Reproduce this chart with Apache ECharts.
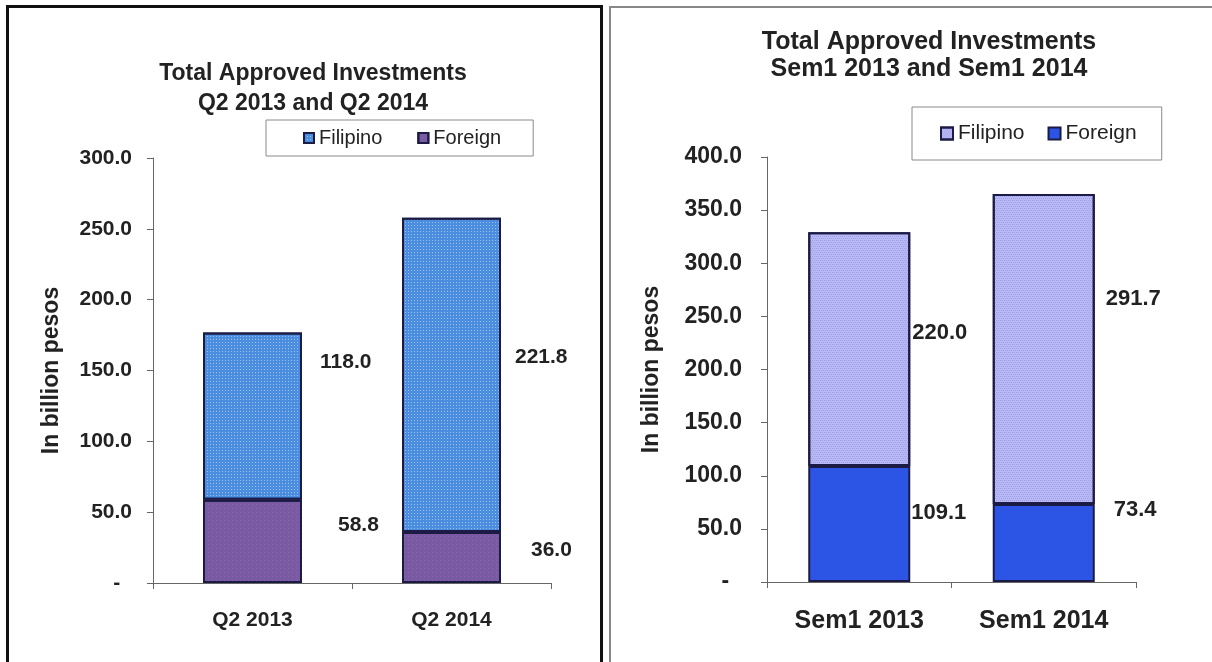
<!DOCTYPE html>
<html>
<head>
<meta charset="utf-8">
<script src="https://cdn.jsdelivr.net/npm/echarts@6/dist/echarts.min.js"></script>
<style>
  html, body { margin: 0; padding: 0; background: #fff; }
  #page { position: relative; width: 1212px; height: 662px; overflow: hidden; }
  #chartQ2 { position: absolute; left: 0; top: 0; width: 605px; height: 662px; }
  #chartSem { position: absolute; left: 605px; top: 0; width: 607px; height: 662px; }
  .frame { position: absolute; pointer-events: none; box-sizing: border-box; }
  #frameQ2 { left: 6px; top: 5px; width: 597px; height: 690px; border: 3px solid #111; }
  #frameSem { left: 609px; top: 6px; width: 640px; height: 690px; border: 2px solid #888; }
</style>
</head>
<body>
<div id="page">
  <div id="chartQ2"></div>
  <div id="chartSem"></div>
  <div class="frame" id="frameQ2"></div>
  <div class="frame" id="frameSem"></div>
</div>
<script>
// left chart: quarter figures (billion pesos)
const q2Categories = ['Q2 2013', 'Q2 2014'];
const q2Filipino = [118.0, 221.8];
const q2Foreign = [58.8, 36.0];
const q2Ticks = { min: 0, max: 300, step: 50 };

// right chart: semester figures (billion pesos)
const semCategories = ['Sem1 2013', 'Sem1 2014'];
const semFilipino = [220.0, 291.7];
const semForeign = [109.1, 73.4];
const semTicks = { min: 0, max: 400, step: 50 };

const yAxisName = 'In billion pesos';

// label nudges (Excel labels were dragged by hand)
const q2LabelShift = { Filipino: [[13, -54], [9, -18]], Foreign: [[31, -16], [25, -7]] };
const semLabelShift = { Filipino: [[-3, -16], [6, -50]], Foreign: [[-4, -11], [14, -33]] };

const font = "'Liberation Sans', Arial, sans-serif";

const zeroDash = function (v) {
  return v === 0 ? '-  ' : v.toFixed(1);
};

const withLabels = (values, shifts) => values.map((v, i) => ({
  value: v,
  label: { offset: shifts[i] }
}));

const buildOption = (cfg) => {
  const labelStyle = {
    show: true,
    position: 'right',
    distance: 5,
    color: '#222',
    fontWeight: 'bold',
    fontSize: cfg.labelSize,
    fontFamily: font,
    formatter: (p) => p.value.toFixed(1)
  };
  return {
    animation: false,
    title: {
      text: cfg.title,
      left: cfg.titleX,
      top: cfg.titleTop,
      textAlign: 'center',
      textStyle: {
        fontSize: cfg.titleSize,
        lineHeight: cfg.titleLine,
        fontWeight: 'bold',
        color: '#222',
        fontFamily: font
      }
    },
    legend: {
      data: ['Filipino', 'Foreign'],
      left: cfg.legend.left,
      top: cfg.legend.top,
      padding: cfg.legend.padding,
      itemGap: cfg.legend.gap,
      itemWidth: cfg.legend.icon,
      itemHeight: cfg.legend.icon,
      icon: 'rect',
      borderColor: '#8a8a8a',
      borderWidth: 1,
      textStyle: { fontSize: cfg.legend.fontSize, color: '#222', fontFamily: font }
    },
    grid: cfg.grid,
    xAxis: {
      type: 'category',
      data: cfg.categories,
      axisLine: { lineStyle: { color: '#666', width: 1 } },
      axisTick: { show: true, interval: 0, alignWithLabel: false, length: 6, lineStyle: { color: '#666' } },
      axisLabel: {
        margin: cfg.catMargin,
        color: '#222',
        fontWeight: 'bold',
        fontSize: cfg.catSize,
        fontFamily: font
      }
    },
    yAxis: {
      type: 'value',
      min: cfg.ticks.min,
      max: cfg.ticks.max,
      interval: cfg.ticks.step,
      name: yAxisName,
      nameLocation: 'middle',
      nameGap: cfg.nameGap,
      nameTextStyle: { fontSize: 23, fontWeight: 'bold', color: '#222', fontFamily: font },
      splitLine: { show: false },
      axisLine: { show: true, lineStyle: { color: '#666', width: 1 } },
      axisTick: { show: true, length: 6, lineStyle: { color: '#666' } },
      axisLabel: {
        formatter: zeroDash,
        margin: cfg.tickMargin,
        color: '#222',
        fontWeight: 'bold',
        fontSize: cfg.tickSize,
        fontFamily: font
      }
    },
    series: [
      {
        name: 'Foreign',
        type: 'bar',
        stack: 'total',
        barWidth: cfg.barWidth,
        data: withLabels(cfg.foreign, cfg.shift.Foreign),
        label: labelStyle,
        itemStyle: Object.assign({ borderColor: '#1b1b45', borderWidth: 2 }, cfg.foreignStyle)
      },
      {
        name: 'Filipino',
        type: 'bar',
        stack: 'total',
        barWidth: cfg.barWidth,
        data: withLabels(cfg.filipino, cfg.shift.Filipino),
        label: labelStyle,
        itemStyle: Object.assign({ borderColor: '#1b1b45', borderWidth: 2 }, cfg.filipinoStyle)
      }
    ]
  };
};

var q2Chart = echarts.init(document.getElementById('chartQ2'));
q2Chart.setOption(buildOption({
  title: 'Total Approved Investments\nQ2 2013 and Q2 2014',
  titleX: 308, titleTop: 54, titleSize: 23, titleLine: 30,
  legend: { left: 266, top: 120, padding: [8, 32, 8, 37], gap: 35, icon: 10, fontSize: 20 },
  grid: { left: 153, right: 54, top: 158, bottom: 79 },
  categories: q2Categories,
  filipino: q2Filipino,
  foreign: q2Foreign,
  ticks: q2Ticks,
  shift: q2LabelShift,
  barWidth: 99,
  labelSize: 21, catSize: 21, tickSize: 21,
  catMargin: 27, tickMargin: 21, nameGap: 90,
  filipinoStyle: {
    color: '#4b8ddf',
    decal: { symbol: 'rect', symbolSize: 1, dashArrayX: [1, 2], dashArrayY: [1, 2], color: 'rgba(255,255,255,0.45)' }
  },
  foreignStyle: {
    color: '#7a5ba3',
    decal: { symbol: 'rect', symbolSize: 1, dashArrayX: [1, 3], dashArrayY: [1, 3], color: 'rgba(150,130,190,0.35)' }
  }
}));

var semChart = echarts.init(document.getElementById('chartSem'));
semChart.setOption(buildOption({
  title: 'Total Approved Investments\nSem1 2013 and Sem1 2014',
  titleX: 319, titleTop: 24, titleSize: 25, titleLine: 27,
  legend: { left: 307, top: 107, padding: [16, 25, 16, 28], gap: 23, icon: 12, fontSize: 21 },
  grid: { left: 162, right: 76, top: 157, bottom: 80 },
  categories: semCategories,
  filipino: semFilipino,
  foreign: semForeign,
  ticks: semTicks,
  shift: semLabelShift,
  barWidth: 102,
  labelSize: 22, catSize: 25, tickSize: 23,
  catMargin: 27, tickMargin: 25, nameGap: 104,
  filipinoStyle: {
    color: '#b9b9f5',
    decal: { symbol: 'rect', symbolSize: 1, dashArrayX: [[1, 1], [0, 1, 1, 0]], dashArrayY: [1, 1], color: 'rgba(110,110,200,0.35)' }
  },
  foreignStyle: { color: '#2c55e6' }
}));

window.onresize = function () {
  q2Chart.resize();
  semChart.resize();
};
</script>
</body>
</html>
